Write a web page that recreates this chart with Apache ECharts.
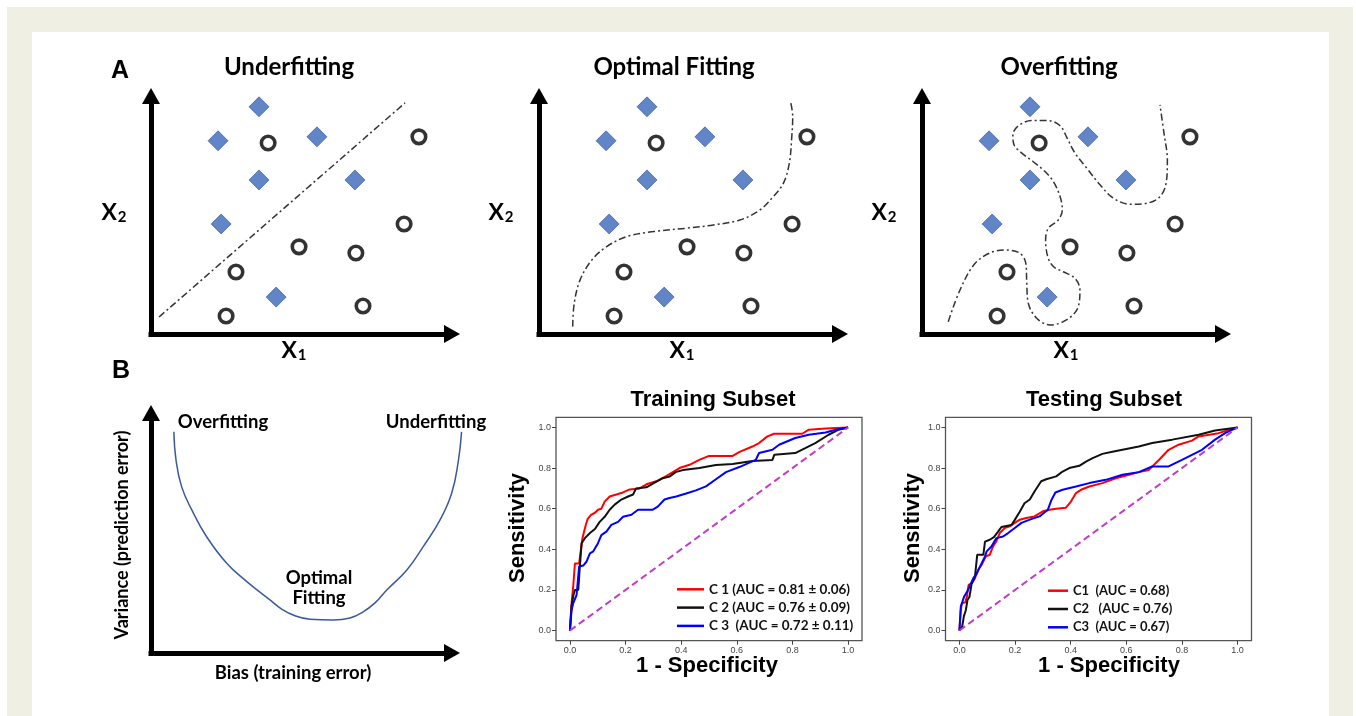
<!DOCTYPE html>
<html><head><meta charset="utf-8">
<script src="https://cdn.jsdelivr.net/npm/echarts@6/dist/echarts.min.js"></script>
<style>
html,body{margin:0;padding:0;background:#fff;}
#f1{position:absolute;left:7px;top:7px;width:1346px;height:709px;background:#efefe4;}
#f2{position:absolute;left:32px;top:32px;width:1297px;height:684px;background:#fff;}
#chart{position:absolute;left:0;top:0;width:1356px;height:716px;}
</style></head><body>
<div id="f1"></div><div id="f2"></div><div id="chart"></div>
<script>
// ---- Panel A data (same points in all three panels) ----
const diamonds = [[34.95,92.3],[21.7,78.5],[53.7,80.1],[34.95,62.6],[66.0,62.6],[22.7,44.7],[40.5,15.0]];
const circles = [[37.9,77.6],[86.7,80.1],[81.9,44.7],[47.9,35.4],[66.3,32.9],[27.5,25.2],[68.6,11.4],[24.3,7.3]];
const underfitBoundary = [[2.6,6.9],[82.2,93.9]];
const optimalBoundary = [[10.9,3.0],[11.4,12.5],[13.3,22.0],[17.1,30.1],[21.9,35.5],[28.4,39.6],[37.0,41.6],[47.8,43.0],[56.4,44.3],[65.0,46.3],[71.5,50.4],[75.8,55.8],[79.1,61.3],[81.0,69.4],[81.8,80.2],[82.1,88.3],[81.5,93.8]];
const overfitBoundary = [[8.5,5.0],[12.3,17.9],[17.2,28.7],[23.1,33.5],[27.4,34.1],[31.7,32.8],[33.6,28.7],[33.9,20.6],[34.4,12.5],[37.1,6.4],[41.4,3.7],[45.7,5.0],[50.1,9.8],[51.1,17.9],[49.5,22.6],[45.7,25.3],[42.5,27.4],[40.7,31.4],[40.0,38.2],[40.9,43.0],[44.1,46.3],[45.4,50.4],[44.7,55.8],[42.5,61.9],[39.8,66.0],[36.0,70.0],[32.3,73.5],[29.8,76.8],[29.4,80.9],[31.2,84.6],[35.5,86.7],[40.9,86.7],[44.7,84.6],[46.8,80.0],[49.5,73.5],[53.3,67.4],[57.6,60.6],[61.9,55.2],[67.3,52.7],[72.7,53.1],[77.0,55.8],[79.0,61.3],[79.4,70.7],[78.3,81.6],[77.0,93.1]];
const panelTitles = ['Underfitting','Optimal Fitting','Overfitting'];

// ---- Panel B: bias / variance curve ----
const biasVarianceCurve = [[7.4,89.2],[8.1,77.8],[9.9,67.1],[13.2,57.7],[18.0,46.9],[24.5,36.2],[31.0,28.8],[38.5,21.4],[42.4,17.6],[46.6,15.0],[51.5,13.6],[58.9,13.3],[64.4,14.1],[68.3,16.3],[72.5,20.2],[76.3,25.4],[82.8,33.5],[88.1,42.9],[93.5,53.6],[97.3,64.4],[99.5,77.8],[100.5,89.2]];

// ---- ROC curves ----
const rocTicks = [0,0.2,0.4,0.6,0.8,1.0];
const diagonal = [[0,0],[1,1]];
const trainNames = ['C 1 (AUC = 0.81 \u00b1 0.06)','C 2 (AUC = 0.76 \u00b1 0.09)','C 3  (AUC = 0.72 \u00b1 0.11)'];
const trainC1 = [[0,0],[0.005,0.12],[0.012,0.22],[0.018,0.33],[0.033,0.33],[0.045,0.455],[0.052,0.46],[0.057,0.52],[0.064,0.55],[0.076,0.57],[0.09,0.58],[0.101,0.595],[0.113,0.60],[0.125,0.635],[0.143,0.66],[0.167,0.67],[0.191,0.68],[0.215,0.695],[0.251,0.70],[0.275,0.72],[0.31,0.735],[0.346,0.76],[0.37,0.78],[0.394,0.80],[0.43,0.816],[0.465,0.84],[0.50,0.86],[0.585,0.86],[0.61,0.88],[0.656,0.906],[0.68,0.923],[0.71,0.956],[0.734,0.969],[0.835,0.969],[0.859,0.989],[0.919,0.995],[1,1]];
const trainC2 = [[0,0],[0.006,0.12],[0.012,0.17],[0.018,0.20],[0.030,0.20],[0.036,0.32],[0.042,0.43],[0.054,0.455],[0.072,0.48],[0.09,0.50],[0.107,0.535],[0.125,0.56],[0.143,0.595],[0.161,0.62],[0.185,0.645],[0.209,0.66],[0.227,0.67],[0.238,0.70],[0.275,0.705],[0.30,0.725],[0.334,0.75],[0.358,0.758],[0.38,0.78],[0.406,0.79],[0.465,0.80],[0.525,0.815],[0.585,0.82],[0.656,0.835],[0.728,0.84],[0.735,0.866],[0.81,0.874],[0.846,0.898],[0.882,0.923],[0.93,0.964],[0.966,0.989],[1,1]];
const trainC3 = [[0,0],[0.006,0.10],[0.012,0.135],[0.024,0.175],[0.033,0.315],[0.048,0.32],[0.060,0.34],[0.072,0.38],[0.084,0.39],[0.101,0.43],[0.113,0.47],[0.131,0.487],[0.149,0.52],[0.173,0.535],[0.191,0.56],[0.221,0.57],[0.245,0.595],[0.298,0.595],[0.316,0.61],[0.34,0.645],[0.358,0.653],[0.382,0.66],[0.418,0.675],[0.453,0.69],[0.489,0.71],[0.525,0.745],[0.561,0.78],[0.609,0.805],[0.668,0.84],[0.68,0.874],[0.728,0.89],[0.752,0.915],[0.81,0.948],[0.859,0.964],[0.919,0.975],[0.955,0.989],[1,1]];
const testNames = ['C1  (AUC = 0.68)','C2   (AUC = 0.76)','C3  (AUC = 0.67)'];
const testC1 = [[0,0],[0.005,0.10],[0.009,0.135],[0.021,0.138],[0.027,0.167],[0.033,0.225],[0.045,0.233],[0.056,0.258],[0.068,0.30],[0.080,0.324],[0.095,0.365],[0.109,0.373],[0.121,0.414],[0.133,0.44],[0.145,0.48],[0.163,0.505],[0.181,0.513],[0.199,0.53],[0.217,0.546],[0.24,0.554],[0.27,0.562],[0.30,0.587],[0.324,0.595],[0.348,0.60],[0.383,0.605],[0.401,0.635],[0.419,0.677],[0.437,0.693],[0.467,0.709],[0.514,0.726],[0.562,0.75],[0.61,0.767],[0.645,0.78],[0.681,0.791],[0.717,0.84],[0.752,0.89],[0.788,0.915],[0.836,0.935],[0.86,0.956],[0.931,0.972],[1,1]];
const testC2 = [[0,0],[0.01,0.02],[0.016,0.07],[0.023,0.10],[0.029,0.15],[0.036,0.165],[0.044,0.23],[0.056,0.266],[0.064,0.373],[0.086,0.373],[0.092,0.438],[0.109,0.447],[0.124,0.46],[0.139,0.487],[0.151,0.51],[0.187,0.52],[0.199,0.545],[0.217,0.585],[0.234,0.627],[0.253,0.645],[0.27,0.685],[0.294,0.735],[0.312,0.745],[0.348,0.759],[0.371,0.783],[0.395,0.80],[0.431,0.811],[0.455,0.832],[0.479,0.849],[0.514,0.87],[0.55,0.88],[0.586,0.89],[0.645,0.906],[0.693,0.923],[0.765,0.94],[0.86,0.964],[0.919,0.985],[1,1]];
const testC3 = [[0,0],[0.005,0.118],[0.017,0.167],[0.027,0.19],[0.036,0.215],[0.050,0.258],[0.062,0.28],[0.074,0.315],[0.092,0.365],[0.098,0.39],[0.115,0.414],[0.133,0.455],[0.157,0.463],[0.175,0.48],[0.199,0.505],[0.223,0.53],[0.253,0.546],[0.288,0.562],[0.318,0.595],[0.33,0.64],[0.345,0.68],[0.371,0.693],[0.419,0.709],[0.467,0.726],[0.526,0.742],[0.586,0.767],[0.645,0.78],[0.693,0.808],[0.752,0.808],[0.8,0.84],[0.872,0.89],[0.919,0.94],[0.955,0.972],[1,1]];

// ---------------- build option ----------------
const chart = echarts.init(document.getElementById('chart'), null, {renderer:'canvas'});
const CAL = 'Lato, "Open Sans", sans-serif';
const ARI = '"Liberation Sans", Arial, sans-serif';
const rocColors = ['#ff0000','#111111','#0000ff'];

const grids = [
  {left:151, top:96, width:301, height:238},
  {left:539, top:96, width:301, height:238},
  {left:922, top:96, width:301, height:238},
  {left:151, top:413, width:301, height:240},
  {left:556, top:417.3, width:306, height:223.4, show:true, borderColor:'#555', borderWidth:1.3},
  {left:945.5, top:417.3, width:306, height:223.4, show:true, borderColor:'#555', borderWidth:1.3},
  {left:151, top:413, width:312, height:240}   // drawing area of the bias/variance curve
];
const arrowAxis = (gi, max) => ({
  gridIndex:gi, type:'value', min:0, max:max,
  axisLine:{show:true, onZero:false, symbol:['none','triangle'], symbolSize:[18,16],
            lineStyle:{color:'#000', width:5, cap:'square'}},
  axisTick:{show:false}, axisLabel:{show:false}, splitLine:{show:false}
});
const hiddenAxis = (gi, max) => ({gridIndex:gi, type:'value', min:0, max:max, show:false,
  axisLine:{show:false, onZero:false}, splitLine:{show:false}});
const rocAxis = (gi) => ({
  gridIndex:gi, type:'value', min:-0.05, max:1.05,
  axisLine:{show:false, onZero:false},
  axisTick:{show:true, inside:false, length:4, lineStyle:{color:'#444', width:1}, customValues:rocTicks},
  axisLabel:{show:true, customValues:rocTicks, formatter:v=>v.toFixed(1), fontSize:9, color:'#444', margin:5, fontFamily:ARI},
  splitLine:{show:false}
});
const xAxes = [arrowAxis(0,97.4),arrowAxis(1,97.4),arrowAxis(2,97.4),arrowAxis(3,97.4),rocAxis(4),rocAxis(5),hiddenAxis(6,100.97)];
const yAxes = [arrowAxis(0,96.7),arrowAxis(1,96.7),arrowAxis(2,96.7),arrowAxis(3,96.8),rocAxis(4),rocAxis(5),hiddenAxis(6,96.8)];

const series = [];
const boundaries = [underfitBoundary, optimalBoundary, overfitBoundary];
for (let i=0;i<3;i++){
  series.push({type:'line', xAxisIndex:i, yAxisIndex:i, data:boundaries[i], symbol:'none', smooth: i===0?false:0.35,
    silent:true, z:2, lineStyle:{color:'#333', width:1.5, type:[7,3,2,3]}});
  series.push({type:'scatter', xAxisIndex:i, yAxisIndex:i, data:diamonds, symbol:'diamond', symbolSize:20,
    silent:true, z:3, itemStyle:{color:'#3a66b8', borderColor:'#2c549e', borderWidth:0.8}});
  series.push({type:'scatter', xAxisIndex:i, yAxisIndex:i, data:circles, symbol:'circle', symbolSize:13.5,
    silent:true, z:3, itemStyle:{color:'#fff', borderColor:'#000', borderWidth:3.6}});
}
series.push({type:'line', xAxisIndex:6, yAxisIndex:6, data:biasVarianceCurve, symbol:'none', smooth:0.45,
  silent:true, lineStyle:{color:'#3b5a9e', width:1.5}});
const addRoc = (gi, names, sets) => {
  sets.forEach((d,k)=>series.push({type:'line', name:names[k], xAxisIndex:gi, yAxisIndex:gi, data:d, symbol:'none',
    silent:true, z:3, lineStyle:{color:rocColors[k], width:2}, itemStyle:{color:rocColors[k]}}));
  series.push({type:'line', xAxisIndex:gi, yAxisIndex:gi, data:diagonal, symbol:'none', silent:true, z:4,
    lineStyle:{color:'#c03cc8', width:2, type:[7,4]}});
};
addRoc(4, trainNames, [trainC1,trainC2,trainC3]);
addRoc(5, testNames, [testC1,testC2,testC3]);

const legendText = {fontFamily:CAL, fontWeight:'bold', fontSize:13.5, color:'#111', lineHeight:14};
const legends = [
  {data:trainNames, orient:'vertical', left:677, top:582.3, padding:0, icon:'rect', itemWidth:27, itemHeight:2.5, itemGap:4.3,
   selectedMode:false, textStyle:legendText},
  {data:testNames, orient:'vertical', left:1048, top:583.7, padding:0, icon:'rect', itemWidth:20, itemHeight:2.5, itemGap:4.3,
   selectedMode:false, textStyle:Object.assign({}, legendText, {fontSize:13})}
];

// ---- texts ----
const T = (text, x, y, font, size, extra) => Object.assign({
  type:'text', x:x, y:y, z:100, silent:true,
  style:{text:text, fill:'#000', fontFamily:font, fontWeight:'bold', fontSize:size,
         align:'center', verticalAlign:'middle', textAlign:'center', textVerticalAlign:'middle'}
}, extra||{});
const sub = (ch, num, x, y) => ({
  type:'text', x:x, y:y, z:100, silent:true,
  style:{text:'{a|'+ch+'}{b|'+num+'}', align:'center', verticalAlign:'middle', textAlign:'center', textVerticalAlign:'middle',
    rich:{a:{fontFamily:CAL, fontWeight:'bold', fontSize:23, fill:'#000'},
          b:{fontFamily:CAL, fontWeight:'bold', fontSize:15, fill:'#000', padding:[9,0,0,1]}}}
});
const graphics = [
  T('A', 120, 71, ARI, 25),
  T('B', 121, 371, ARI, 25),
  T(panelTitles[0], 289, 67, CAL, 24),
  T(panelTitles[1], 674, 67, CAL, 24),
  T(panelTitles[2], 1059, 67, CAL, 24),
  sub('X','2',114,213), sub('X','2',501,213), sub('X','2',884,213),
  sub('X','1',294,351), sub('X','1',682,351), sub('X','1',1066,351),
  T('Overfitting', 223, 422, CAL, 18.5),
  T('Underfitting', 436, 422, CAL, 18.5),
  T('Optimal', 319, 578, CAL, 18.5),
  T('Fitting', 319, 598, CAL, 18.5),
  T('Variance (prediction error)', 122, 535, CAL, 18, {rotation:Math.PI/2}),
  T('Bias (training error)', 293, 673, CAL, 18.5),
  T('Training Subset', 713, 400, ARI, 22),
  T('Sensitivity', 518, 528, ARI, 22, {rotation:Math.PI/2}),
  T('1 - Specificity', 707, 666, ARI, 22),
  T('Testing Subset', 1104, 400, ARI, 22),
  T('Sensitivity', 913, 528, ARI, 22, {rotation:Math.PI/2}),
  T('1 - Specificity', 1109, 666, ARI, 22)
];

chart.setOption({
  backgroundColor:'transparent',
  animation:false,
  grid:grids, xAxis:xAxes, yAxis:yAxes,
  legend:legends,
  series:series,
  graphic:{elements:graphics}
});
</script>
</body></html>
